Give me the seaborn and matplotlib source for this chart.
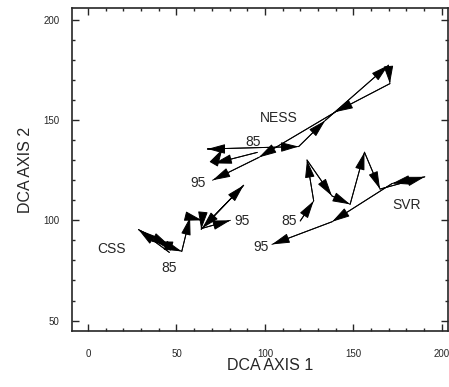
import pandas as pd
import matplotlib
matplotlib.use("Agg")
import matplotlib.pyplot as plt
import seaborn as sns

years = list(range(1985, 1996))

ness_x = [95.7, 71.3, 76.0, 67.5, 119.1, 134.1, 169.8, 170.7, 139.8, 96.6, 70.4]
ness_y = [133.9, 128.4, 135.6, 135.6, 136.8, 149.8, 177.4, 168.2, 154.0, 131.4, 120.0]

css_x = [46.0, 28.5, 46.0, 38.0, 53.0, 57.7, 64.5, 64.0, 88.0, 64.5, 80.5]
css_y = [84.0, 95.4, 87.5, 89.5, 84.5, 101.5, 100.0, 95.5, 117.5, 96.0, 100.0]

svr_x = [120.0, 127.6, 123.8, 137.9, 148.2, 156.3, 165.1, 190.4, 172.0, 138.0, 104.0]
svr_y = [99.7, 109.7, 130.1, 112.2, 108.0, 134.0, 115.6, 121.7, 118.4, 99.3, 88.0]

sites = ["NESS", "CSS", "SVR"]

frames = []
for name, xs, ys in [("NESS", ness_x, ness_y), ("CSS", css_x, css_y), ("SVR", svr_x, svr_y)]:
    frames.append(pd.DataFrame({"site": name, "year": years, "axis1": xs, "axis2": ys}))
df = pd.concat(frames, ignore_index=True)

# text labels: (text, x, y)
labels = [
    ("NESS", 108, 151), ("85", 93.3, 139.2), ("95", 62.5, 118.5),
    ("CSS", 13.5, 85.5), ("85", 46, 76), ("95", 87, 99.5),
    ("SVR", 180, 107.5), ("85", 113.5, 99.5), ("95", 98, 86.5),
]

sns.set_style("ticks")
plt.rcParams["font.family"] = ["Liberation Sans", "DejaVu Sans"]

fig = plt.figure(figsize=(4.49, 3.87), dpi=100)
ax = fig.add_axes([0.161, 0.1447, 0.837, 0.834])

sns.lineplot(data=df, x="axis1", y="axis2", units="site", estimator=None,
             sort=False, color="black", lw=0.7, ax=ax)

for site in sites:
    d = df[df["site"] == site].reset_index(drop=True)
    for i in range(len(d) - 1):
        ax.annotate("", xy=(d.axis1[i + 1], d.axis2[i + 1]),
                    xytext=(d.axis1[i], d.axis2[i]),
                    arrowprops=dict(arrowstyle="-|>,head_length=1.1,head_width=0.3",
                                    color="black", lw=0.7, shrinkA=0, shrinkB=0,
                                    mutation_scale=10))

for txt, x, y in labels:
    ax.text(x, y, txt, fontsize=10, ha="center", va="center")

ax.set_xlim(-8.9, 203.6)
ax.set_ylim(44.8, 205.8)
ax.set_xticks([0, 50, 100, 150, 200])
ax.set_yticks([50, 100, 150, 200])
ax.set_xticks(range(0, 201, 10), minor=True)
ax.set_yticks(range(50, 201, 10), minor=True)
ax.tick_params(which="both", direction="in", top=True, right=True, width=1, labelsize=7)
ax.tick_params(which="major", length=5)
ax.tick_params(which="minor", length=2.5)
ax.tick_params(axis="x", pad=13)
ax.tick_params(axis="y", pad=9)
for s in ax.spines.values():
    s.set_linewidth(1.2)
ax.set_xlabel("")
ax.set_ylabel("")

fig.text(270 / 449, 1 - 366 / 387, "DCA AXIS 1", fontsize=11.5, ha="center", va="center")
fig.text(26 / 449, 1 - 170 / 387, "DCA AXIS 2", fontsize=11.5, ha="center", va="center",
         rotation=90)

fig.savefig("out.png", dpi=100)
